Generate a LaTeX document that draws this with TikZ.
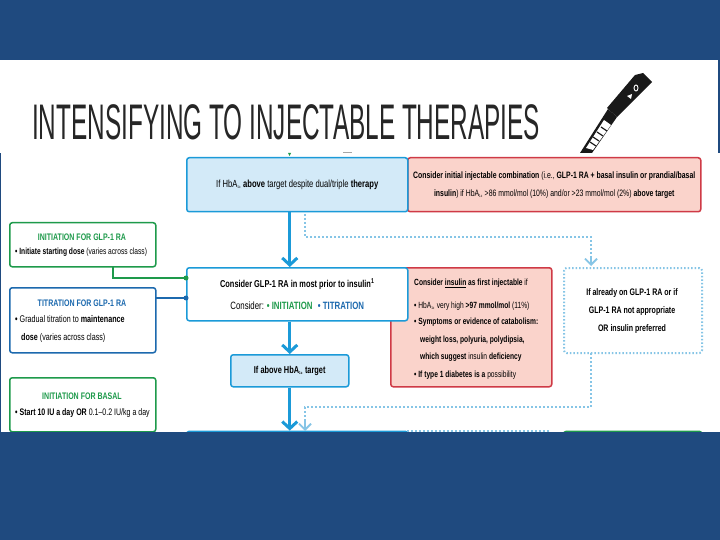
\documentclass[tikz,border=0pt]{standalone}
\usepackage{fontspec}
\setmainfont[FakeStretch=0.74]{Liberation Sans}
\newfontfamily\titlefont[FakeStretch=0.487]{Liberation Sans}
\usetikzlibrary{arrows.meta}
\definecolor{navy}{HTML}{1F4A7F}
\definecolor{flowblue}{HTML}{1B9AD8}
\definecolor{paleblue}{HTML}{D3EAF8}
\definecolor{palered}{HTML}{FAD3CB}
\definecolor{edgered}{HTML}{CF3A46}
\definecolor{dotblue}{HTML}{86C5E6}
\definecolor{gr}{HTML}{1E9A4B}
\definecolor{db}{HTML}{1C69AE}
\tikzset{
 basebox/.style={draw,rounded corners=2.5pt,line width=1.5pt,anchor=north west,inner sep=0pt,align=center,font=\fontsize{9.3}{18}\selectfont},
 bluebox/.style={basebox,draw=flowblue,fill=paleblue},
 whitebox/.style={basebox,draw=flowblue,fill=white},
 redbox/.style={basebox,draw=edgered,fill=palered},
 greenbox/.style={basebox,draw=gr,fill=white},
 darkbox/.style={basebox,draw=db,fill=white},
 dotbox/.style={basebox,draw=dotblue,fill=white,dotted,line width=2pt},
 txt/.style={anchor=north west,inner sep=0pt,align=left,font=\fontsize{9}{17.6}\selectfont},
 flow/.style={draw=flowblue,line width=3.4pt,-{Straight Barb[length=7pt,width=15pt,line width=3pt]}},
 dotflow/.style={draw=dotblue,line width=2pt,dotted},
 dottip/.style={draw=dotblue,line width=1.8pt,-{Straight Barb[length=6pt,width=12pt,line width=1.8pt]}}
}
\newcommand{\lc}{\textsubscript{\fontsize{4}{4}\selectfont 1c}}
\begin{document}
\begin{tikzpicture}[x=1pt,y=-1pt]
\useasboundingbox (0,0) rectangle (720,540);
\fill[navy] (0,0) rectangle (720,540);
\fill[white] (0,60) rectangle (718,153);
\fill[white] (1,153) rectangle (720,432);
% title
\node[anchor=west,inner sep=0pt,text=black!85] (title) at (32,122) {\titlefont\fontsize{50}{50}\selectfont INTENSIFYING TO INJECTABLE THERAPIES};
% pen
\fill[black!90] (635,75) -- (643,73) -- (652,82) -- (617,117) -- (607,108) -- cycle;
\fill[black!90] (608,109) -- (617,117) -- (592,153) -- (580,153) -- cycle;
\fill[white] (604,120) -- (611,125) -- (593,150) -- (586,148) -- cycle;
\foreach \px/\py in {601/127,597/132,593/137,590/142}
  \draw[black!90,line width=1.2pt] (\px,\py) -- ++(6,4);
\fill[white] (627,96) -- (632,94) -- (631,99) -- cycle;
\draw[white,line width=0.9pt] (636,88) ellipse (2pt and 3pt);
% small remnants above the first box
\fill[gr] (288,153) -- (291,153) -- (289.5,156) -- cycle;
\draw[black!35] (343,152.5) -- (352,152.5);
% top row
\node[redbox,minimum width=293pt,minimum height=54pt] (combo) at (407,157) {\textbf{Consider initial injectable combination} (i.e., \textbf{GLP-1 RA + basal insulin or prandial/basal}\\\textbf{insulin}) if HbA\lc\ >86 mmol/mol (10\%) and/or >23 mmol/mol (2\%) \textbf{above target}};
\node[bluebox,minimum width=221pt,minimum height=54pt,font=\fontsize{10.3}{12}\selectfont] (start) at (186,157) {If HbA\lc\ \textbf{above} target despite dual/triple \textbf{therapy}};
% insulin box
\node[redbox,minimum width=161pt,minimum height=119pt] (insulin) at (390,267) {};
\node[txt] (insulintext) at (414,279) {\textbf{Consider \underline{insulin} as first injectable} if\\[5pt]
 \textbf{•} HbA\lc\ very high \textbf{>97 mmol/mol} (11\%)\\[-1.5pt]
 \textbf{•} \textbf{Symptoms or evidence of catabolism:}\\
 \hspace*{6pt}\textbf{weight loss, polyuria, polydipsia,}\\
 \hspace*{6pt}\textbf{which suggest} insulin \textbf{deficiency}\\
 \textbf{•} \textbf{If type 1 diabetes is a} possibility};
\node[whitebox,minimum width=221pt,minimum height=53pt,font=\fontsize{10}{22}\selectfont] (glp) at (186,267) {\textbf{Consider GLP-1 RA in most prior to insulin\textsuperscript{1}}\\
 \fontsize{10.6}{22}\selectfont Consider: \textcolor{gr}{\textbf{• INITIATION}}\enspace\textcolor{db}{\textbf{• TITRATION}}};
\node[dotbox,minimum width=138pt,minimum height=85pt] (already) at (563,267) {};
\node[anchor=center,inner sep=0pt,align=center,font=\fontsize{9.5}{18}\selectfont] (alreadytext) at (632,311) {\textbf{If already on GLP-1 RA or if}\\\textbf{GLP-1 RA not appropriate}\\\textbf{OR insulin preferred}};
\node[bluebox,minimum width=118pt,minimum height=32pt,font=\fontsize{10}{12}\selectfont] (above) at (230,354) {\textbf{If above HbA\lc\ target}};
% left boxes
\node[greenbox,minimum width=146pt,minimum height=44pt] (initglp) at (9,222) {};
\node[anchor=center,inner sep=0pt,text=gr,font=\fontsize{9.5}{10}\selectfont\bfseries] (initgl) at (82,237) {INITIATION FOR GLP-1 RA};
\node[txt] (initgt) at (15,248) {\textbf{•} \textbf{Initiate starting dose} (varies across class)};
\node[darkbox,minimum width=146pt,minimum height=65pt] (titr) at (9,287) {};
\node[anchor=center,inner sep=0pt,text=db,font=\fontsize{9.5}{10}\selectfont\bfseries] (titrl) at (82,303) {TITRATION FOR GLP-1 RA};
\node[txt,font=\fontsize{9.7}{18}\selectfont] (titrt) at (15,315) {\textbf{•} Gradual titration to \textbf{maintenance}\\\hspace*{6pt}\textbf{dose} (varies across class)};
\node[greenbox,minimum width=146pt,minimum height=54pt] (initbas) at (9,377) {};
\node[anchor=center,inner sep=0pt,text=gr,font=\fontsize{9.5}{10}\selectfont\bfseries] (initbl) at (82,396) {INITIATION FOR BASAL};
\node[txt,font=\fontsize{9.5}{17.6}\selectfont] (initbt) at (15,408) {\textbf{•} \textbf{Start 10 IU a day OR} 0.1--0.2 IU/kg a day};
% boxes cropped at the bottom
\node[whitebox,minimum width=221pt,minimum height=30pt] (nextblue) at (186,430.6) {};
\node[greenbox,minimum width=138pt,minimum height=30pt] (nextgreen) at (563,430.6) {};
\coordinate (n1) at (407,431);
\coordinate (n2) at (550,431);
\draw[dotflow,line width=1.5pt] (n1) -- (n2);
% connectors
\draw[flow] (start.south -| above.north) -- (glp.north -| above.north);
\draw[flow] (glp.south -| above.north) -- (above.north);
\draw[flow] (above.south) -- (nextblue.north -| above.north);
\coordinate (d1) at (305,214);
\coordinate (d2) at (305,237);
\coordinate (d3) at (591,237);
\coordinate (d4) at (591,266);
\coordinate (d5) at (591,257);
\draw[dotflow] (d1) -- (d2) -- (d3) -- (d5);
\draw[dottip] (d5) -- (d4);
\coordinate (e1) at (591,353);
\coordinate (e2) at (591,407);
\coordinate (e3) at (305,407);
\coordinate (e4) at (305,431);
\coordinate (e5) at (305,421);
\draw[dotflow] (e1) -- (e2) -- (e3) -- (e5);
\draw[dottip] (e5) -- (e4);
% feeder lines
\coordinate (g1) at (113,266);
\coordinate (g2) at (113,278);
\coordinate (g3) at (186,278);
\draw[gr,line width=1.2pt] (g1) -- (g2) -- (g3);
\fill[gr] (g3) circle (2.5pt);
\coordinate (b1) at (155,298);
\coordinate (b2) at (186,298);
\draw[db,line width=1.2pt] (b1) -- (b2);
\fill[db] (b2) circle (2.5pt);
% bottom band
\fill[navy] (0,432) rectangle (720,540);
\end{tikzpicture}
\end{document}
